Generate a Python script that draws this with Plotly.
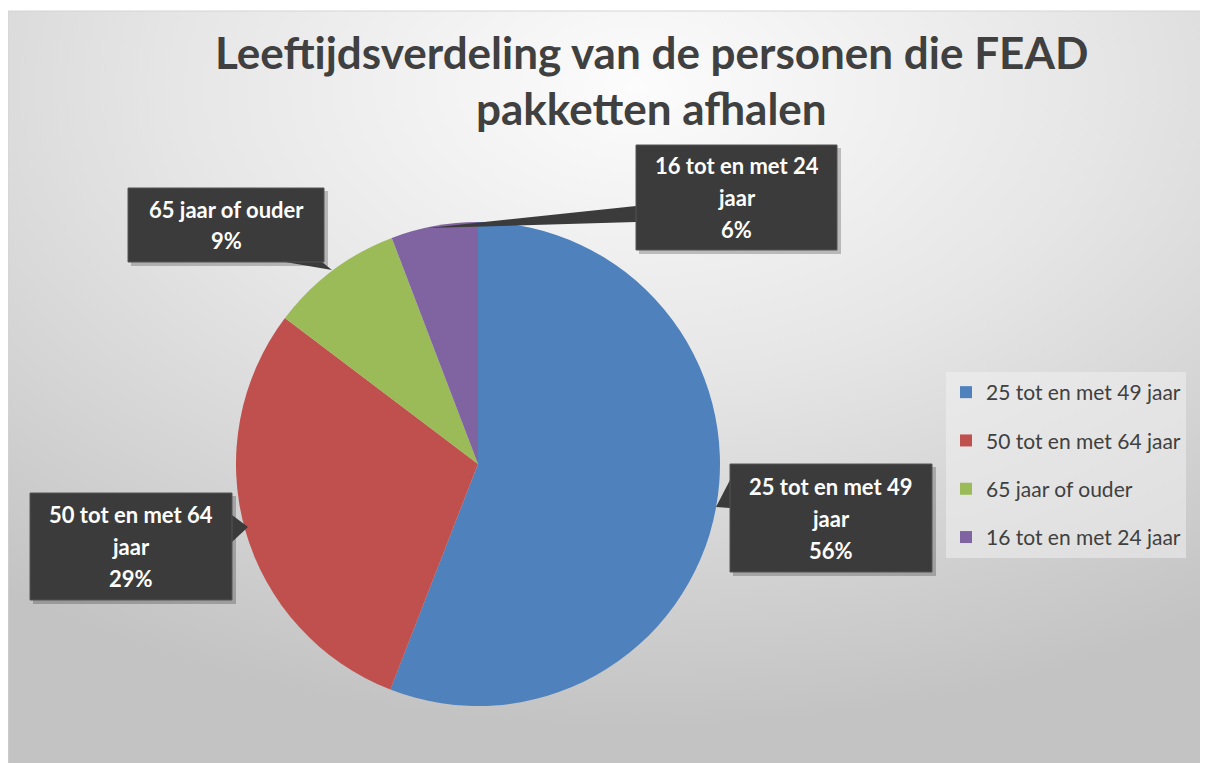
import base64
import plotly.graph_objects as go

# ---- data ----
labels = ["25 tot en met 49 jaar", "50 tot en met 64 jaar", "65 jaar of ouder", "16 tot en met 24 jaar"]
values = [55.9, 29.4, 8.9, 5.8]
colors = ["#4f81bd", "#c0504d", "#9bbb59", "#8064a2"]
title_lines = ["Leeftijdsverdeling van de personen die FEAD", "pakketten afhalen"]

# page body adds an 8px margin, so the figure is shifted by 8px
OFF = 8
W, H = 1208, 755
FONT = "Lato"


def px(x):
    return (x - OFF) / W


def py(y):
    return 1 - (y - OFF) / H


fig = go.Figure()

# pie centred at (478,464) px, radius 242
fig.add_trace(go.Pie(
    labels=labels, values=values, sort=False, direction="clockwise", rotation=0,
    marker=dict(colors=colors, line=dict(width=0)),
    textinfo="none", hoverinfo="label+percent", showlegend=False,
    domain=dict(x=[px(236), px(720)], y=[py(706), py(222)]),
))

# legend proxies (one per slice) so items can be spaced like the original
for lab, col in zip(labels, colors):
    fig.add_trace(go.Scatter(
        x=[None], y=[None], mode="markers", name=lab, legendgroup=lab,
        marker=dict(symbol="square", size=14, color=col), showlegend=True,
    ))

# gradient background
svg = (
    "<svg xmlns='http://www.w3.org/2000/svg' width='1200' height='752' viewBox='0 0 1200 752' preserveAspectRatio='none'>"
    "<defs><radialGradient id='g' cx='0.52' cy='0.1' r='0.85' fx='0.52' fy='0.1'>"
    "<stop offset='0' stop-color='#fcfcfc'/>"
    "<stop offset='0.45' stop-color='#e6e6e6'/>"
    "<stop offset='1' stop-color='#c3c3c3'/>"
    "</radialGradient></defs>"
    "<rect x='0' y='0' width='1200' height='752' fill='url(#g)'/></svg>"
)
src = "data:image/svg+xml;base64," + base64.b64encode(svg.encode()).decode()

shapes = []
annotations = []

# callout boxes: (box x0, y0, x1, y1), pointer triangle (3 pts) in px
total = sum(values)
boxes = [
    ((730, 464, 932, 572), [(730, 480), (716, 507), (730, 508)]),
    ((30, 493, 232, 600), [(232, 515), (248, 527), (232, 542)]),
    ((128, 188, 324, 262), [(285, 262), (332, 270), (322, 262)]),
    ((636, 145, 837, 250), [(636, 206), (428, 228), (636, 222)]),
]


def wrap(lab):
    if len(lab) > 17:
        return list(lab.rsplit(" ", 1))
    return [lab]


LINE = 32
for lab, v, (box, tri) in zip(labels, values, boxes):
    x0, y0, x1, y1 = box
    shapes.append(dict(type="rect", xref="paper", yref="paper",
                       x0=px(x0 + 3), x1=px(x1 + 4), y0=py(y1 + 4), y1=py(y0 + 3),
                       fillcolor="rgba(0,0,0,0.22)", line=dict(width=0), layer="above"))
    path = "M " + " L ".join(f"{px(a)},{py(b)}" for a, b in tri) + " Z"
    shapes.append(dict(type="path", xref="paper", yref="paper", path=path,
                       fillcolor="#3b3b3b", line=dict(width=0), layer="above"))
    shapes.append(dict(type="rect", xref="paper", yref="paper",
                       x0=px(x0), x1=px(x1), y0=py(y1), y1=py(y0),
                       fillcolor="#3b3b3b", line=dict(color="#555555", width=1), layer="above"))
    pct = round(v / total * 100)
    lines = wrap(lab) + [f"{pct}%"]
    cy = (y0 + y1) / 2
    start = cy - (len(lines) - 1) * LINE / 2
    for i, t in enumerate(lines):
        annotations.append(dict(
            xref="paper", yref="paper", x=px((x0 + x1) / 2), y=py(start + i * LINE),
            text=f"<b>{t}</b>", showarrow=False, align="center",
            xanchor="center", yanchor="middle",
            font=dict(family=FONT, size=22, color="white"),
        ))

# title as two centred lines
for i, t in enumerate(title_lines):
    annotations.append(dict(
        xref="paper", yref="paper", x=px(651), y=py(52 + i * 56),
        text=f"<b>{t}</b>", showarrow=False, xanchor="center", yanchor="middle",
        font=dict(family=FONT, size=44, color="#404040"),
    ))

# chart area border
shapes.insert(0, dict(type="rect", xref="paper", yref="paper", x0=0, x1=1.01, y0=-0.01, y1=py(11),
                      line=dict(color="#d4d4d4", width=1), fillcolor="rgba(0,0,0,0)", layer="below"))

fig.update_layout(
    width=W, height=H,
    margin=dict(l=0, r=0, t=0, b=0),
    paper_bgcolor="white", plot_bgcolor="rgba(0,0,0,0)",
    xaxis=dict(visible=False), yaxis=dict(visible=False),
    images=[dict(source=src, xref="paper", yref="paper", x=0, y=py(11), sizex=1.0, sizey=1.0,
                 xanchor="left", yanchor="top", sizing="stretch", layer="below")],
    legend=dict(x=px(946), y=py(372), xanchor="left", yanchor="top",
                bgcolor="rgba(240,240,240,0.55)", borderwidth=0,
                font=dict(family=FONT, size=21, color="#404040"),
                tracegroupgap=18, traceorder="grouped", itemsizing="constant"),
    shapes=shapes, annotations=annotations,
)

fig.write_html("out.html")
